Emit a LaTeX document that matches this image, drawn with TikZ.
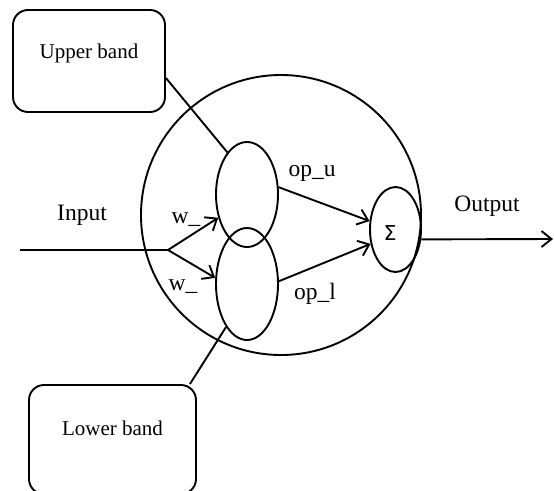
\documentclass[tikz,border=0pt]{standalone}
\usepackage{fontspec}
\setmainfont{Liberation Serif}
\newfontfamily\sigmafont{DejaVu Sans}
\usetikzlibrary{calc,arrows.meta,shapes.geometric,positioning}

\begin{document}
\begin{tikzpicture}[x=1pt,y=-1pt,line width=1.9pt,font=\fontsize{23.5}{26}\selectfont]

\tikzset{band/.style={draw,rounded corners=15pt,inner sep=0pt,font=\fontsize{21}{24}\selectfont},
lobe/.style={draw,shape=ellipse,inner sep=0pt},
wire/.style={-{Straight Barb[length=10pt,width=16pt]}}}

\useasboundingbox (0,0) rectangle (554,490);

% Neuron body and lobes
\node (cell) [draw,circle,minimum size=280pt,inner sep=0pt] at (281,215) {};
\node (upLobe) [lobe,minimum width=62pt,minimum height=105pt] at (247,194.5) {};
\node (lowLobe) [lobe,minimum width=62pt,minimum height=112pt] at (247,284) {};
\node (sum) [lobe,minimum width=51pt,minimum height=85pt] at (395.5,229.5) {};
\node (sigma) [anchor=base,font=\sigmafont\fontsize{20.5}{22}\selectfont] at (390,240) {Σ};

% Band boxes
\node (upper) [band,minimum width=152pt,minimum height=102pt,text height=48pt,text depth=54pt] at (89,61) {Upper band};
\node (lower) [band,minimum width=167pt,minimum height=109pt,text height=50pt,text depth=59pt] at (112.5,439.5) {Lower band};

% Free ends
\coordinate (in) at (20,250);
\coordinate (fork) at (168,250);
\coordinate (out) at (553,239);

% Edges
\draw (in) -- (fork); \draw[wire] (fork) -- (upLobe.-141); \draw[wire] (fork) -- (lowLobe.169); % input
\draw[wire] (upLobe.13) -- (sum.162); \draw[wire] (lowLobe.5) -- (sum.-150); \draw[wire] (sum.-21) -- (out); % output
\draw ([yshift=-17pt]upper.east) -- (upLobe.115); \draw (lowLobe.-116) -- ([xshift=-7pt]lower.north east); % bands

% Labels
\node (inLabel) [anchor=base] at (82,220) {Input};
\node (outLabel) [anchor=base] at (487,211) {Output};
\node (wUp) [anchor=base] at (186,223) {w\_};
\node (wLow) [anchor=base] at (183,290) {w\_};
\node (opUp) [anchor=base] at (312,176) {op\_u};
\node (opLow) [anchor=base] at (315,299) {op\_l};

\end{tikzpicture}
\end{document}
